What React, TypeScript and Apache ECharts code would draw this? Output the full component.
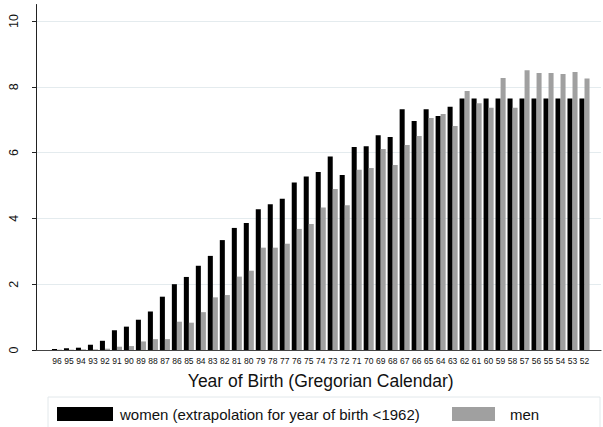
import React, { useEffect, useRef } from "react";
import * as echarts from "echarts";

const categories = [
  "96", "95", "94", "93", "92", "91", "90", "89", "88", "87", "86", "85", "84", "83", "82",
  "81", "80", "79", "78", "77", "76", "75", "74", "73", "72", "71", "70", "69", "68", "67",
  "66", "65", "64", "63", "62", "61", "60", "59", "58", "57", "56", "55", "54", "53", "52",
];

const women = [
  0.03, 0.05, 0.07, 0.16, 0.28, 0.6, 0.71, 0.92, 1.17, 1.62, 2.0, 2.22, 2.56, 2.86, 3.34,
  3.71, 3.86, 4.28, 4.43, 4.6, 5.09, 5.27, 5.41, 5.88, 5.32, 6.17, 6.19, 6.53, 6.47, 7.32,
  6.96, 7.32, 7.11, 7.39, 7.64, 7.64, 7.64, 7.64, 7.64, 7.64, 7.64, 7.64, 7.64, 7.64, 7.64,
];

const men = [
  0.01, 0.01, 0.02, 0.02, 0.04, 0.1, 0.12, 0.26, 0.33, 0.33, 0.86, 0.83, 1.15, 1.6, 1.67,
  2.23, 2.41, 3.11, 3.11, 3.23, 3.68, 3.83, 4.33, 4.89, 4.4, 5.48, 5.53, 6.11, 5.62, 6.23,
  6.5, 7.05, 7.17, 6.81, 7.87, 7.5, 7.36, 8.27, 7.36, 8.5, 8.42, 8.42, 8.39, 8.45, 8.25,
];

const yTicks = [0, 2, 4, 6, 8, 10];

const womenName = "women (extrapolation for year of birth <1962)";
const menName = "men";
const xTitle = "Year of Birth (Gregorian Calendar)";

const FONT = "'Liberation Sans', Arial, Helvetica, sans-serif";

export default function App() {
  const ref = useRef<HTMLDivElement>(null);

  useEffect(() => {
    document.body.style.margin = "0";
    if (!ref.current) return;
    const chart = echarts.init(ref.current, undefined, { renderer: "svg" });
    const gridTop = 4.5;
    const gridBottom = 77;
    chart.setOption({
      animation: false,
      backgroundColor: "#ffffff",
      textStyle: { fontFamily: FONT },
      grid: [
        { left: 36, right: 2, top: gridTop, bottom: gridBottom },
        { left: 51, right: 12.5, top: gridTop, bottom: gridBottom },
      ],
      xAxis: [
        {
          gridIndex: 0,
          type: "value",
          min: 0,
          max: 1,
          axisLine: { show: true, lineStyle: { color: "#444", width: 1.2 } },
          axisTick: { show: false },
          axisLabel: { show: false },
          splitLine: { show: false },
        },
        {
          gridIndex: 1,
          type: "category",
          data: categories,
          axisLine: { show: false },
          axisTick: { show: false },
          axisLabel: {
            interval: 0,
            fontSize: 8.5,
            color: "#111",
            margin: 6,
            fontFamily: FONT,
          },
          name: xTitle,
          nameLocation: "middle",
          nameGap: 22,
          nameTextStyle: { fontSize: 17.5, color: "#111", fontFamily: FONT },
        },
      ],
      yAxis: [
        {
          gridIndex: 0,
          type: "value",
          min: 0,
          max: 10.5,
          interval: 2,
          axisLine: { show: true, lineStyle: { color: "#222", width: 1 } },
          axisTick: {
            show: true,
            length: 4,
            lineStyle: { color: "#222" },
            customValues: yTicks,
          },
          axisLabel: {
            rotate: 90,
            fontSize: 12.5,
            color: "#111",
            margin: 16,
            fontFamily: FONT,
            customValues: yTicks,
          },
          splitLine: { show: true, lineStyle: { color: "#e4ebee", width: 1 } },
        },
        {
          gridIndex: 1,
          type: "value",
          min: 0,
          max: 10.5,
          show: false,
        },
      ],
      legend: [
        {
          data: [womenName],
          left: 57,
          top: 406.5,
          padding: 0,
          itemWidth: 56,
          itemHeight: 14,
          itemGap: 0,
          icon: "rect",
          textStyle: { fontSize: 15, color: "#111", fontFamily: FONT, padding: [0, 0, 0, 2] },
        },
        {
          data: [menName],
          left: 452,
          top: 406.5,
          padding: 0,
          itemWidth: 43,
          itemHeight: 14,
          itemGap: 0,
          icon: "rect",
          textStyle: { fontSize: 15, color: "#111", fontFamily: FONT, padding: [0, 0, 0, 10] },
        },
      ],
      graphic: [
        {
          type: "rect",
          shape: { x: 48, y: 397, width: 552, height: 40 },
          style: { fill: "none", stroke: "#e2e8eb", lineWidth: 1 },
          silent: true,
        },
      ],
      series: [
        {
          name: womenName,
          type: "bar",
          xAxisIndex: 1,
          yAxisIndex: 1,
          data: women,
          barGap: "0%",
          barCategoryGap: "16%",
          itemStyle: { color: "#000000" },
        },
        {
          name: menName,
          type: "bar",
          xAxisIndex: 1,
          yAxisIndex: 1,
          data: men,
          barGap: "0%",
          barCategoryGap: "16%",
          itemStyle: { color: "#a0a0a0" },
        },
      ],
    });
    return () => chart.dispose();
  }, []);

  return <div ref={ref} style={{ width: 603, height: 427 }} />;
}
